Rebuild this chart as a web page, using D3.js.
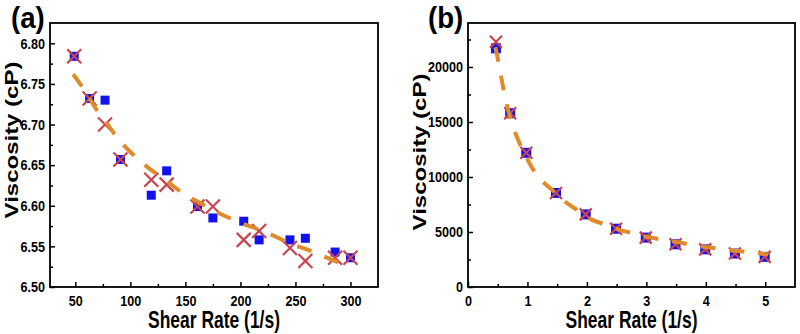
<!DOCTYPE html>
<html><head><meta charset="utf-8">
<script src="https://cdn.jsdelivr.net/npm/d3@7"></script>
<style>
html,body{margin:0;padding:0;background:#fff;}
svg{display:block;}
text{font-family:"Liberation Sans",Arial,sans-serif;font-weight:bold;fill:#000;}
</style></head>
<body>
<svg id="c" width="800" height="334"></svg>
<script>
// ---- Panel (a) data ----
const rateA = [49, 63, 77, 91, 119, 133, 161, 175, 203, 217, 245, 259, 286, 300];
const squareA = [6.784, 6.732, 6.730, 6.657, 6.613, 6.643, 6.599, 6.585, 6.581, 6.558, 6.558, 6.560, 6.543, 6.536];
const crossA  = [6.784, 6.732, 6.700, 6.657, 6.632, 6.626, 6.599, 6.599, 6.558, 6.569, 6.548, 6.532, 6.536, 6.536];
const fitRateA = [48, 56, 61, 72, 80, 89, 98, 109, 121, 132, 142, 156, 168, 180, 192, 200, 220, 235, 242, 261, 277, 291];
const fitViscA = [6.762, 6.747, 6.736, 6.713, 6.699, 6.682, 6.669, 6.655, 6.642, 6.632, 6.621, 6.609, 6.600, 6.591, 6.584, 6.579, 6.569, 6.560, 6.555, 6.546, 6.537, 6.529];
const xTicksA = [50, 100, 150, 200, 250, 300];
const xMinorA = [75, 125, 175, 225, 275, 325];
const yTicksA = [6.50, 6.55, 6.60, 6.65, 6.70, 6.75, 6.80];
const yMinorA = [6.525, 6.575, 6.625, 6.675, 6.725, 6.775];

// ---- Panel (b) data ----
const rateB = [0.47, 0.71, 0.98, 1.48, 1.98, 2.49, 2.99, 3.49, 3.99, 4.49, 4.99];
const squareB = [21700, 15800, 12200, 8550, 6600, 5300, 4490, 3880, 3420, 3040, 2740];
const crossB  = [22300, 15800, 12200, 8550, 6600, 5300, 4490, 3880, 3420, 3040, 2740];
const fitRateB = [0.46, 0.5, 0.6, 0.7, 0.84, 0.95, 1.06, 1.2, 1.4, 1.6, 1.82, 2.07, 2.3, 2.55, 2.8, 3.05, 3.35, 3.6, 3.88, 4.16, 4.41, 4.72, 5.05];
const fitViscB = [21800, 20800, 17900, 15600, 13400, 12150, 11000, 9900, 8900, 7900, 7050, 6150, 5700, 5200, 4850, 4520, 4240, 4000, 3740, 3520, 3340, 3180, 2950];
const xTicksB = [0, 1, 2, 3, 4, 5];
const xMinorB = [0.5, 1.5, 2.5, 3.5, 4.5];
const yTicksB = [0, 5000, 10000, 15000, 20000];
const yMinorB = [2500, 7500, 12500, 17500, 22500];

const xTitle = "Shear Rate (1/s)";
const yTitle = "Viscosity (cP)";

const svg = d3.select("#c");
const SX = 0.84;   // horizontal squeeze of tick labels
const TSX = 0.76;  // horizontal squeeze of titles

function squeeze(sel, sx){
  sel.each(function(){
    const t = d3.select(this);
    const x = +t.attr("x") || 0, y = +t.attr("y") || 0;
    t.attr("x", 0).attr("y", 0).attr("transform", `translate(${x},${y}) scale(${sx},1)`);
  });
}

function panel(cfg){
  const {left, right, top, bottom, xDom, yDom, xT, xM, yT, yM, fmtY, rate, sq, cr, fr, fv, label, labelX, yTitleX, yTitleY, crossHalf, sqSize} = cfg;
  const x = d3.scaleLinear().domain(xDom).range([left, right]);
  const y = d3.scaleLinear().domain(yDom).range([bottom, top]);
  const g = svg.append("g");

  // x axis major
  const gx = g.append("g").attr("transform", `translate(0,${bottom})`)
    .call(d3.axisBottom(x).tickValues(xT).tickSizeInner(-5).tickSizeOuter(0).tickPadding(8).tickFormat(d3.format("d")));
  const gxm = g.append("g").attr("transform", `translate(0,${bottom})`)
    .call(d3.axisBottom(x).tickValues(xM.filter(v => v < xDom[1])).tickSizeInner(-3).tickSizeOuter(0).tickFormat(""));
  const gy = g.append("g").attr("transform", `translate(${left},0)`)
    .call(d3.axisLeft(y).tickValues(yT).tickSizeInner(-5).tickSizeOuter(0).tickPadding(5).tickFormat(fmtY));
  const gym = g.append("g").attr("transform", `translate(${left},0)`)
    .call(d3.axisLeft(y).tickValues(yM).tickSizeInner(-3).tickSizeOuter(0).tickFormat(""));
  [gx, gxm, gy, gym].forEach(a => {
    a.select(".domain").remove();
    a.selectAll("line").attr("stroke", "#000").attr("stroke-width", 1.5);
    a.selectAll("text").attr("font-size", 15).attr("font-weight", "bold")
      .attr("font-family", "'Liberation Sans',Arial,sans-serif").attr("fill", "#000");
  });
  squeeze(gx.selectAll("text"), SX);
  squeeze(gy.selectAll("text"), SX);

  // frame
  g.append("rect").attr("x", left).attr("y", top).attr("width", right - left).attr("height", bottom - top)
    .attr("fill", "none").attr("stroke", "#000").attr("stroke-width", 1.8);

  // squares
  g.append("g").selectAll("rect").data(rate).join("rect")
    .attr("x", (d, i) => x(d) - sqSize / 2).attr("y", (d, i) => y(sq[i]) - sqSize / 2)
    .attr("width", sqSize).attr("height", sqSize).attr("fill", "#1212ee");
  // crosses
  g.append("g").selectAll("path").data(rate).join("path")
    .attr("d", (d, i) => {
      const cx = x(d), cy = y(cr[i]), h = crossHalf;
      return `M${cx - h},${cy - h}L${cx + h},${cy + h}M${cx - h},${cy + h}L${cx + h},${cy - h}`;
    })
    .attr("stroke", "#c9454f").attr("stroke-width", 2.2).attr("fill", "none");

  // fit line
  const line = d3.line().x(d => x(d[0])).y(d => y(d[1])).curve(d3.curveMonotoneX);
  g.append("path").datum(fr.map((r, i) => [r, fv[i]])).attr("d", line)
    .attr("fill", "none").attr("stroke", "#df8b2a").attr("stroke-width", 4)
    .attr("stroke-dasharray", "15,14");

  // titles
  g.append("text").attr("text-anchor", "middle").attr("font-size", 23)
    .attr("transform", `translate(${(left + right) / 2},328) scale(${TSX},1)`).text(xTitle);
  g.append("text").attr("text-anchor", "middle").attr("font-size", 24)
    .attr("transform", `translate(${yTitleX},${yTitleY}) scale(${TSX},1) rotate(-90)`).text(yTitle);
  // panel label
  g.append("text").attr("font-size", 30)
    .attr("transform", `translate(${labelX},28) scale(0.92,1)`).text(label);
}

panel({left: 50, right: 378, top: 23, bottom: 287, xDom: [27, 325], yDom: [6.5, 6.825],
  xT: xTicksA, xM: xMinorA, yT: yTicksA, yM: yMinorA, fmtY: d3.format(".2f"),
  rate: rateA, sq: squareA, cr: crossA, fr: fitRateA, fv: fitViscA,
  label: "(a)", labelX: 11, yTitleX: 18, yTitleY: 140, crossHalf: 7, sqSize: 9});

panel({left: 468, right: 795, top: 23, bottom: 287, xDom: [0, 5.5], yDom: [0, 24000],
  xT: xTicksB, xM: xMinorB, yT: yTicksB, yM: yMinorB, fmtY: d3.format("d"),
  rate: rateB, sq: squareB, cr: crossB, fr: fitRateB, fv: fitViscB,
  label: "(b)", labelX: 428, yTitleX: 426, yTitleY: 152, crossHalf: 6, sqSize: 10});
</script>
</body></html>
